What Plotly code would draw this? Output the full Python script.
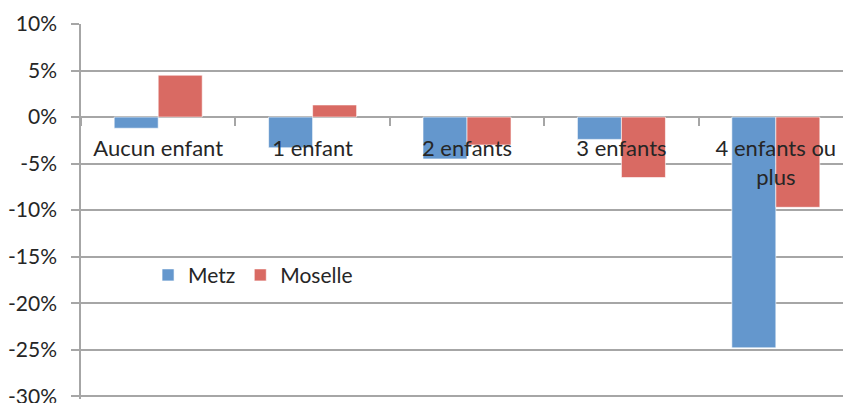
'''
    Bar chart comparing the change per number of children,
    for Metz and for Moselle.
'''

import plotly.graph_objects as go

CATEGORIES = ['Aucun enfant', '1 enfant', '2 enfants', '3 enfants', '4 enfants ou<br>plus']
METZ = [-1.2, -3.3, -4.5, -2.4, -24.8]
MOSELLE = [4.5, 1.3, -3.0, -6.5, -9.7]
Y_TICKS = [10, 5, 0, -5, -10, -15, -20, -25, -30]

BLUE = '#6497CD'
RED = '#D96A63'
GRID = '#A6A6A6'
TEXT = '#262626'
FONT = 'Lato, Liberation Sans, Arial, sans-serif'

Y_MIN = -30.3  # a bit below -30 so the last grid line is kept
Y_MAX = 10


def init_figure():
    '''
        Creates the empty figure with the layout of the chart.
    '''
    fig = go.Figure()
    fig.update_layout(
        width=843,
        height=403,
        margin=dict(l=81, r=0, t=24, b=4),
        paper_bgcolor='white',
        plot_bgcolor='white',
        barmode='group',
        bargap=0.43,
        bargroupgap=0,
        font=dict(family=FONT, size=21, color=TEXT),
        legend=dict(
            orientation='h',
            x=0.088, xanchor='left',
            y=0.33, yanchor='middle',
            font=dict(size=21, color=TEXT),
            bgcolor='rgba(0,0,0,0)',
        ),
    )
    return fig


def draw(fig):
    '''
        Adds one bar trace per series.
    '''
    for name, values, color in [('Metz', METZ, BLUE), ('Moselle', MOSELLE, RED)]:
        fig.add_trace(go.Bar(
            x=CATEGORIES,
            y=values,
            name=name,
            marker=dict(color=color, line=dict(color='rgba(255,255,255,0.6)', width=1)),
        ))
    return fig


def update_axes(fig):
    '''
        Gray grid and axes, x axis drawn on the zero line.
    '''
    fig.update_yaxes(
        range=[Y_MIN, Y_MAX],
        automargin=False,
        tickvals=Y_TICKS,
        ticktext=[f'{v}%' for v in Y_TICKS],
        showgrid=True, gridcolor=GRID, gridwidth=1.5,
        zeroline=True, zerolinecolor=GRID, zerolinewidth=1.5,
        showline=True, linecolor=GRID, linewidth=1.5,
        ticks='outside', ticklen=8, tickcolor=GRID, tickwidth=1.5,
        ticklabelstandoff=10,
        ticklabeloverflow='allow',
        tickfont=dict(size=21, color=TEXT),
    )
    fig.update_xaxes(
        type='category',
        range=[-0.5, 4.435],
        automargin=False,
        anchor='free',
        position=-Y_MIN / (Y_MAX - Y_MIN),  # where 0 sits on the y axis
        showgrid=False,
        showline=False,
        ticks='outside', tickson='boundaries', ticklen=8, tickcolor=GRID, tickwidth=1.5,
        ticklabelstandoff=16,
        tickfont=dict(size=22, color=TEXT),
    )
    return fig


fig = update_axes(draw(init_figure()))
# the page body has a default margin of 8px, remove it so the chart sits at 0,0
fig.write_html('out.html', config={'displayModeBar': False},
               post_script="document.body.style.margin='0';")
